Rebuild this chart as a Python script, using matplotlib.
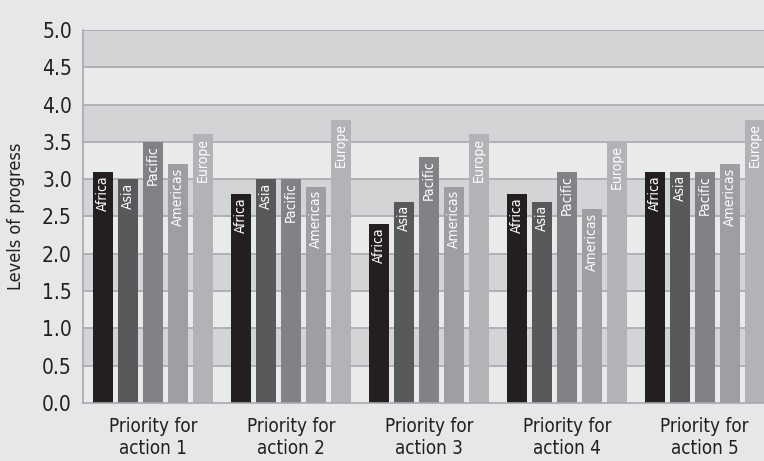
import numpy as np
import matplotlib.pyplot as plt

regions = ["Africa", "Asia", "Pacific", "Americas", "Europe"]
groups = ["Priority for\naction 1", "Priority for\naction 2", "Priority for\naction 3",
          "Priority for\naction 4", "Priority for\naction 5"]
africa = [3.1, 2.8, 2.4, 2.8, 3.1]
asia = [3.0, 3.0, 2.7, 2.7, 3.1]
pacific = [3.5, 3.0, 3.3, 3.1, 3.1]
americas = [3.2, 2.9, 2.9, 2.6, 3.2]
europe = [3.6, 3.8, 3.6, 3.5, 3.8]
series = [africa, asia, pacific, americas, europe]
colors = ["#231f20", "#58595b", "#808285", "#9d9fa2", "#b1b3b6"]

plt.rcParams['font.family'] = ['DejaVu Sans']
plt.rcParams['font.stretch'] = 'condensed'

fig = plt.figure(figsize=(7.64, 4.61), dpi=100, facecolor="#e6e7e8")
ax = fig.add_axes([83/764, 58/461, 1 - 83/764, 373/461])
ax.set_facecolor("#e9eaea")

# alternating bands
for lo in np.arange(0.5, 5.0, 1.0):
    ax.axhspan(lo, lo + 0.5, color="#d3d4d6", zorder=0, lw=0)
for y in np.arange(0.5, 5.01, 0.5):
    ax.axhline(y, color="#a7a9ac", lw=1.2, zorder=1)

x = np.arange(len(groups))
step = 25 / 138
width = 20 / 138
for i, (name, vals, c) in enumerate(zip(regions, series, colors)):
    pos = x + (i - 2) * step
    ax.bar(pos, vals, width=width, color=c, zorder=2)
    for px, v in zip(pos, vals):
        ax.annotate(name, (px, v), xytext=(0, -2.5), textcoords="offset points",
                    rotation=90, ha="center", va="top", color="white",
                    fontsize=10, zorder=3)

ax.set_xlim(-70/138, 4.43)
ax.set_ylim(0, 5.0)
ax.set_yticks(np.arange(0, 5.01, 0.5))
ax.set_yticklabels([f"{v:.1f}" for v in np.arange(0, 5.01, 0.5)])
ax.set_xticks(x)
ax.set_xticklabels(groups, linespacing=1.2)
ax.tick_params(length=0, labelsize=15, colors="#231f20", pad=8)
ax.tick_params(axis="x", labelsize=13.5, pad=10)
for s in ["top", "right"]:
    ax.spines[s].set_visible(False)
for s in ["left", "bottom"]:
    ax.spines[s].set_color("#a7a9ac")
    ax.spines[s].set_linewidth(1.2)
ax.set_ylabel("Levels of progress", fontsize=13, color="#231f20")
ax.yaxis.set_label_coords(-0.085, 0.5)

plt.savefig("out.png", dpi=100, facecolor=fig.get_facecolor())
